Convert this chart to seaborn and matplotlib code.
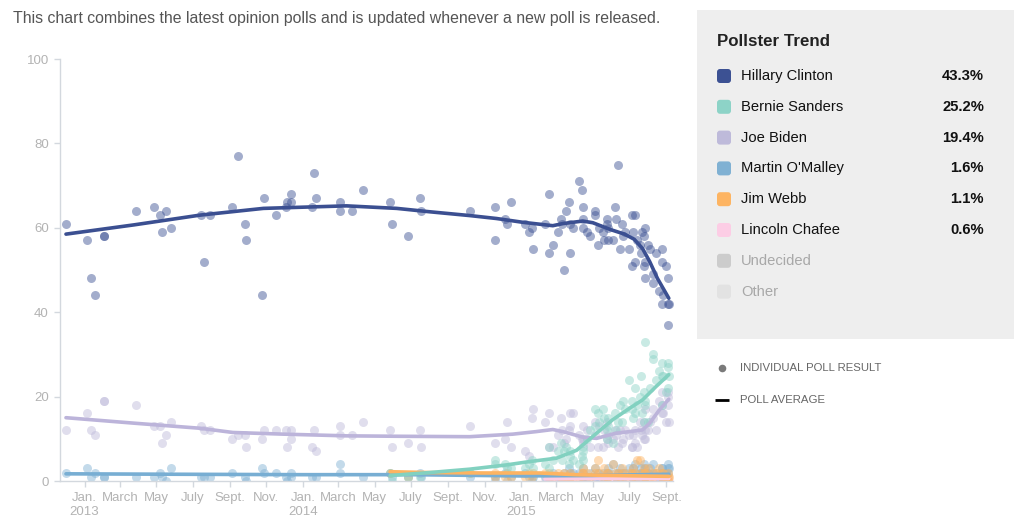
import pandas as pd
import matplotlib.pyplot as plt
import matplotlib.dates as mdates
from matplotlib.ticker import FuncFormatter
from matplotlib.patches import Rectangle, FancyBboxPatch
import seaborn as sns

# ---------------------------------------------------------------
# data (one entry per poll, None = not asked)
# ---------------------------------------------------------------
poll_dates = [
    '2012-12-01', '2013-01-05', '2013-01-12', '2013-01-19', '2013-02-02', '2013-02-03', '2013-03-28', '2013-04-27', '2013-05-07', '2013-05-11',
    '2013-05-18', '2013-05-25', '2013-07-15', '2013-07-19', '2013-07-29', '2013-09-05', '2013-09-14', '2013-09-26', '2013-09-28', '2013-10-25',
    '2013-10-28', '2013-11-17', '2013-12-04', '2013-12-06', '2013-12-12', '2013-12-13', '2014-01-16', '2014-01-19', '2014-01-23', '2014-03-04',
    '2014-03-05', '2014-03-25', '2014-04-11', '2014-05-27', '2014-05-30', '2014-06-26', '2014-07-16', '2014-07-17', '2014-10-07', '2014-11-19',
    '2014-11-19', '2014-12-05', '2014-12-08', '2014-12-15', '2015-01-08', '2015-01-14', '2015-01-19', '2015-01-21', '2015-02-10', '2015-02-17',
    '2015-02-17', '2015-02-24', '2015-03-03', '2015-03-08', '2015-03-10', '2015-03-14', '2015-03-17', '2015-03-22', '2015-03-24', '2015-03-24',
    '2015-03-28', '2015-04-08', '2015-04-13', '2015-04-14', '2015-04-14', '2015-04-14', '2015-04-22', '2015-04-27', '2015-05-04', '2015-05-04',
    '2015-05-10', '2015-05-11', '2015-05-18', '2015-05-19', '2015-05-25', '2015-05-25', '2015-05-27', '2015-05-27', '2015-06-03', '2015-06-07',
    '2015-06-09', '2015-06-12', '2015-06-15', '2015-06-18', '2015-06-21', '2015-06-24', '2015-06-30', '2015-07-05', '2015-07-05', '2015-07-07',
    '2015-07-11', '2015-07-11', '2015-07-14', '2015-07-18', '2015-07-21', '2015-07-22', '2015-07-25', '2015-07-26', '2015-07-28', '2015-07-28',
    '2015-07-28', '2015-08-02', '2015-08-05', '2015-08-09', '2015-08-10', '2015-08-15', '2015-08-19', '2015-08-24', '2015-08-24', '2015-08-25',
    '2015-08-26', '2015-09-01', '2015-09-03', '2015-09-03', '2015-09-03', '2015-09-05',
]
N = None
clinton = [
    61, 57, 48, 44, 58, 58, 64, 65, 63, 59,
    64, 60, 63, 52, 63, 65, 77, 61, 57, 44,
    67, 63, 65, 66, 66, 68, 65, 73, 67, 66,
    64, 64, 69, 66, 61, 58, 67, 64, 64, 65,
    57, 62, 61, 66, 61, 59, 60, 55, 61, 68,
    54, 56, 59, 62, 61, 50, 64, 66, 61, 54,
    60, 71, 69, 65, 62, 60, 59, 58, 64, 63,
    56, 60, 59, 57, 62, 61, 60, 57, 57, 65,
    62, 75, 55, 61, 58, 59, 55, 63, 51, 59,
    63, 52, 57, 56, 54, 59, 58, 51, 60, 48,
    52, 56, 55, 49, 47, 54, 45, 55, 52, 42,
    44, 51, 48, 42, 37, 42,
]
sanders = [
    N, N, N, N, N, N, N, N, N, N,
    N, N, N, N, N, N, N, N, N, N,
    N, N, N, N, N, N, N, N, N, N,
    N, N, N, 2, 0, 1, 1, N, 2, 5,
    4, 4, 3, 3, 3, 4, 5, 3, 4, 8,
    3, 5, 7, 9, 5, 7, 8, 4, 6, 7,
    5, 4, 6, 5, 8, 7, 10, 12, 17, 13,
    16, 14, 17, 15, 12, 10, 13, 15, 9, 16,
    12, 14, 18, 14, 19, 17, 24, 19, 17, 15,
    16, 22, 18, 20, 25, 16, 14, 21, 18, 33,
    19, 14, 22, 30, 29, 24, 26, 18, 25, 28,
    25, 21, 22, 27, 28, 25,
]
biden = [
    12, 16, 12, 11, 19, 19, 18, 13, 13, 9,
    11, 14, 13, 12, 12, 10, 11, 11, 8, 10,
    12, 12, 12, 8, 10, 12, 8, 12, 7, 13,
    11, 11, 14, 12, 8, 9, 12, 8, 13, 9,
    N, 10, 14, 8, 7, 6, 15, 17, 14, 16,
    8, 8, 11, 15, 12, 9, 10, 12, 13, 16,
    16, 11, 10, 9, 13, 10, 12, 8, 11, 14,
    8, 13, 8, 12, 14, 10, 11, 9, 10, 12,
    11, 8, 12, 9, 10, 12, 11, 8, 8, 11,
    12, 9, 8, 14, 12, 11, 10, 14, 12, 10,
    17, 12, 14, 15, 17, 12, 19, 16, 18, 21,
    16, 14, 18, 20, 21, 14,
]
omalley = [
    2, 3, 1, 2, 1, 1, 1, 1, 2, 1,
    0, 3, 1, 1, 1, 2, N, 1, 0, 3,
    2, 2, 1, 0, 2, 1, 1, N, 1, 4,
    2, N, 1, 2, 1, 1, 2, 1, 1, 0,
    1, 2, 0, 1, 2, 1, 0, 1, 1, 0,
    1, 2, 1, 0, 1, 2, 1, 3, 2, 1,
    2, 2, 1, 2, 1, 3, 1, 2, 1, 3,
    2, 1, 2, 1, 2, 1, 3, 2, 4, 2,
    1, 2, 3, 2, 1, 2, 3, 2, 1, 3,
    2, 4, 1, 2, 3, 2, 1, 4, 2, 3,
    1, 2, 3, 2, 4, 2, 1, 3, 2, 3,
    1, 2, 3, 2, 4, 3,
]
webb = [
    N, N, N, N, N, N, N, N, N, N,
    N, N, N, N, N, N, N, N, N, N,
    N, N, N, N, N, N, N, N, N, N,
    N, N, N, 2, N, 1, N, N, 2, 2,
    1, 1, 2, 1, 1, 2, 1, 2, 2, 1,
    2, 1, 2, 1, 0, 2, 1, 0, 1, 2,
    1, 1, 2, 1, 2, 3, 2, 1, 3, 2,
    5, 2, 1, 3, 1, 2, 1, 2, 4, 2,
    1, 2, 1, 3, 2, 1, 2, 2, 1, 3,
    1, 2, 5, 5, 2, 1, 2, 3, 1, 2,
    1, 3, 1, 2, 1, 2, 3, 1, 2, 1,
    2, 1, 1, 2, 0, 1,
]
chafee = [
    N, N, N, N, N, N, N, N, N, N,
    N, N, N, N, N, N, N, N, N, N,
    N, N, N, N, N, N, N, N, N, N,
    N, N, N, N, N, N, N, N, N, N,
    N, N, N, N, N, N, N, N, 0, N,
    N, 0, 0, N, 0, N, 0, N, 0, 1,
    0, 0, 0, 1, 0, 0, 1, 0, 1, 0,
    1, 0, 1, 0, 1, 0, 1, 0, 1, 0,
    1, 0, 1, 0, 1, 0, 1, 1, 0, 0,
    1, 0, 1, 0, 1, 0, 1, 0, 0, 1,
    0, 1, 0, 1, 0, 1, 0, 1, 0, 1,
    0, 1, 0, 1, 0, 0,
]

# poll average (trend) lines
clinton_trend_dates = ['2012-12-01', '2013-03-25', '2013-07-13', '2013-10-27', '2014-03-15', '2014-06-07', '2014-08-01',
                       '2014-10-07', '2014-11-21', '2015-01-04', '2015-02-23', '2015-03-12', '2015-04-14', '2015-05-01',
                       '2015-05-30', '2015-06-23', '2015-07-09', '2015-07-23', '2015-08-04', '2015-08-17', '2015-09-05']
clinton_trend = [58.5, 60.7, 63.0, 64.6, 65.2, 64.6, 63.8, 62.9, 62.2, 61.3, 60.5, 61.0, 61.6, 61.2,
                 59.6, 58.5, 57.3, 55.1, 52.0, 48.0, 43.3]
biden_trend_dates = ['2012-12-01', '2013-03-25', '2013-07-13', '2013-09-06', '2013-11-30', '2014-03-15', '2014-06-07',
                     '2014-10-07', '2014-12-18', '2015-01-26', '2015-02-23', '2015-03-12', '2015-04-14', '2015-05-07',
                     '2015-06-08', '2015-07-01', '2015-07-23', '2015-08-04', '2015-08-20', '2015-09-05']
biden_trend = [15.0, 13.7, 12.5, 11.5, 11.1, 10.7, 10.6, 10.5, 11.1, 11.7, 12.2, 11.7, 10.4, 10.1,
               11.3, 11.7, 12.1, 13.7, 16.8, 19.4]
sanders_trend_dates = ['2014-05-27', '2014-08-01', '2014-10-07', '2014-12-07', '2015-01-15', '2015-03-01', '2015-04-04',
                       '2015-05-07', '2015-06-03', '2015-07-01', '2015-07-23', '2015-08-14', '2015-09-05']
sanders_trend = [1.3, 2.0, 2.8, 3.8, 4.6, 5.4, 7.3, 11.3, 14.5, 17.2, 19.2, 22.3, 25.2]
omalley_trend_dates = ['2012-12-01', '2013-06-01', '2014-01-01', '2014-07-01', '2015-01-01', '2015-05-01', '2015-09-05']
omalley_trend = [1.7, 1.6, 1.5, 1.5, 1.2, 1.3, 1.6]
webb_trend_dates = ['2014-05-27', '2014-08-01', '2014-11-01', '2015-02-01', '2015-04-01', '2015-06-01', '2015-09-05']
webb_trend = [2.2, 2.0, 1.9, 1.9, 1.5, 1.3, 1.1]
chafee_trend_dates = ['2015-02-10', '2015-05-01', '2015-09-05']
chafee_trend = [0.5, 0.6, 0.6]

candidates = ['Hillary Clinton', 'Bernie Sanders', 'Joe Biden', "Martin O'Malley", 'Jim Webb', 'Lincoln Chafee']
dot_colors = ['#3c5193', '#8dd3c7', '#bebada', '#80b1d3', '#fdb462', '#fccde5']
line_colors = ['#3b4f91', '#82d1c0', '#bcb4da', '#78aed3', '#fdb462', '#fccde5']
extra_labels = ['Undecided', 'Other']
extra_colors = ['#cccccc', '#e2e2e2']
month_labels = {1: 'Jan.', 3: 'March', 5: 'May', 7: 'July', 9: 'Sept.', 11: 'Nov.'}

polls = pd.DataFrame({'date': pd.to_datetime(poll_dates),
                      'Hillary Clinton': clinton, 'Bernie Sanders': sanders, 'Joe Biden': biden,
                      "Martin O'Malley": omalley, 'Jim Webb': webb, 'Lincoln Chafee': chafee})
trends = {
    'Hillary Clinton': (clinton_trend_dates, clinton_trend),
    'Bernie Sanders': (sanders_trend_dates, sanders_trend),
    'Joe Biden': (biden_trend_dates, biden_trend),
    "Martin O'Malley": (omalley_trend_dates, omalley_trend),
    'Jim Webb': (webb_trend_dates, webb_trend),
    'Lincoln Chafee': (chafee_trend_dates, chafee_trend),
}

# ---------------------------------------------------------------
sns.set_style('white')
plt.rcParams['font.family'] = ['Liberation Sans', 'DejaVu Sans']

fig = plt.figure(figsize=(10.24, 5.29), dpi=100)
ax = fig.add_axes([60 / 1024, 48 / 529, 613 / 1024, 422 / 529])

draw_order = ['Lincoln Chafee', "Martin O'Malley", 'Jim Webb', 'Joe Biden', 'Bernie Sanders', 'Hillary Clinton']
for name in draw_order:
    i = candidates.index(name)
    sub = polls[['date', name]].dropna()
    sns.scatterplot(data=sub, x='date', y=name, color=dot_colors[i], s=42, alpha=0.47,
                    linewidth=0, ax=ax, zorder=2)
for name in draw_order:
    i = candidates.index(name)
    d, v = trends[name]
    tdf = pd.DataFrame({'date': pd.to_datetime(d), 'value': v})
    sns.lineplot(data=tdf, x='date', y='value', color=line_colors[i], linewidth=2.6, ax=ax, zorder=3)

ax.set_xlim(pd.Timestamp('2012-11-21'), pd.Timestamp('2015-09-12'))
ax.set_ylim(0, 100)
ax.set_yticks([0, 20, 40, 60, 80, 100])
ax.set_xlabel('')
ax.set_ylabel('')

ax.xaxis.set_major_locator(mdates.MonthLocator(bymonth=list(month_labels.keys())))


def month_fmt(x, pos):
    d = mdates.num2date(x)
    lab = month_labels.get(d.month, '')
    if d.month == 1:
        lab += '\n' + str(d.year)
    return lab


ax.xaxis.set_major_formatter(FuncFormatter(month_fmt))

for s in ['top', 'right']:
    ax.spines[s].set_visible(False)
for s in ['left', 'bottom']:
    ax.spines[s].set_color('#d3d8de')
    ax.spines[s].set_linewidth(1.0)
ax.tick_params(axis='both', colors='#d3d8de', labelcolor='#b3b3b3', labelsize=9.5,
               length=4, width=1, direction='out', left=True, bottom=True)
ax.tick_params(axis='x', pad=4)
ax.tick_params(axis='y', pad=4)
ax.grid(False)

# ---------------------------------------------------------------
# overlay in pixel coords for header and legend panel
ov = fig.add_axes([0, 0, 1, 1], zorder=-1)
ov.set_xlim(0, 1024)
ov.set_ylim(529, 0)
ov.axis('off')
ov.patch.set_alpha(0)

ov.text(13, 19, 'This chart combines the latest opinion polls and is updated whenever a new poll is released.',
        fontsize=11.4, color='#555555', va='center', ha='left')

ov.add_patch(Rectangle((697, 10), 317, 329, facecolor='#eeeeee', edgecolor='none'))
ov.text(717, 41, 'Pollster Trend', fontsize=12.2, fontweight='bold', color='#222222', va='center')

row_y = 76
for i, name in enumerate(candidates):
    ov.add_patch(FancyBboxPatch((717, row_y - 7), 14, 14, boxstyle='round,pad=0,rounding_size=3',
                                facecolor=dot_colors[i], edgecolor='none'))
    ov.text(741, row_y, name, fontsize=10.6, color='#111111', va='center')
    last = trends[name][1][-1]
    ov.text(984, row_y, f'{last:.1f}%', fontsize=10.6, fontweight='bold', color='#111111',
            va='center', ha='right')
    row_y += 30.8
for lab, col in zip(extra_labels, extra_colors):
    ov.add_patch(FancyBboxPatch((717, row_y - 7), 14, 14, boxstyle='round,pad=0,rounding_size=3',
                                facecolor=col, edgecolor='none'))
    ov.text(741, row_y, lab, fontsize=10.6, color='#a8a8a8', va='center')
    row_y += 30.8

ov.scatter([722], [368], s=30, color='#7a7a7a', linewidth=0)
ov.text(740, 368, 'INDIVIDUAL POLL RESULT', fontsize=8.2, color='#666666', va='center')
ov.plot([715, 729], [400, 400], color='black', linewidth=2, solid_capstyle='butt')
ov.text(740, 400, 'POLL AVERAGE', fontsize=8.2, color='#666666', va='center')

fig.savefig('out.png', dpi=100)
